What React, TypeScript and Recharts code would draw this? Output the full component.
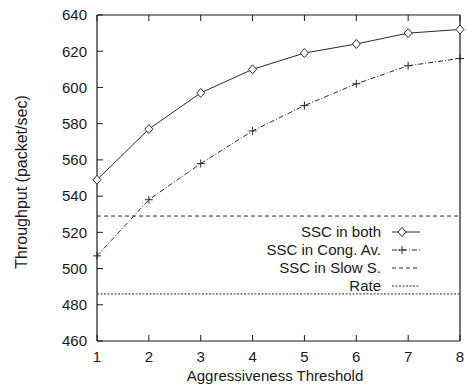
import React from 'react';
import { LineChart, Line, XAxis, YAxis, Legend } from 'recharts';

const thresholds = [1, 2, 3, 4, 5, 6, 7, 8];
const sscBoth = [549, 577, 597, 610, 619, 624, 630, 632];
const sscCong = [507, 538, 558, 576, 590, 602, 612, 616];
const sscSlow = [529, 529, 529, 529, 529, 529, 529, 529];
const rate = [486, 486, 486, 486, 486, 486, 486, 486];
const yTicks = [460, 480, 500, 520, 540, 560, 580, 600, 620, 640];
const seriesNames = ['SSC in both', 'SSC in Cong. Av.', 'SSC in Slow S.', 'Rate'];
const xTitle = 'Aggressiveness Threshold';
const yTitle = 'Throughput (packet/sec)';

const data = thresholds.map((t, i) => ({
  x: t,
  both: sscBoth[i],
  cong: sscCong[i],
  slow: sscSlow[i],
  rate: rate[i],
}));

const FONT = '"Liberation Sans", Arial, Helvetica, sans-serif';
const INK = '#1a1a1a';
const LINE = '#2a2a2a';
const dashes = ['', '5 2 1 2', '4 3', '2 1.5'];

const Diamond = (props: any) => {
  const { cx, cy } = props;
  if (cx == null || cy == null) return <g />;
  return (
    <path
      d={`M${cx} ${cy - 4.5}L${cx + 4} ${cy}L${cx} ${cy + 4.5}L${cx - 4} ${cy}Z`}
      fill="#fff"
      stroke={LINE}
      strokeWidth={1}
    />
  );
};

const Plus = (props: any) => {
  const { cx, cy } = props;
  if (cx == null || cy == null) return <g />;
  return (
    <path d={`M${cx - 4} ${cy}H${cx + 4}M${cx} ${cy - 4}V${cy + 4}`} stroke={LINE} strokeWidth={1} fill="none" />
  );
};

const Empty = () => <g />;

const renderLegend = () => (
  <div style={{ fontFamily: FONT, fontSize: 15, color: INK }}>
    {seriesNames.map((name, i) => (
      <div key={name} style={{ display: 'flex', alignItems: 'center', height: 18 }}>
        <span style={{ width: 151, textAlign: 'right', whiteSpace: 'nowrap', lineHeight: '18px' }}>{name}</span>
        <svg width={40} height={18} style={{ display: 'block' }}>
          <line x1={11} y1={9} x2={39} y2={9} stroke={LINE} strokeWidth={1} strokeDasharray={dashes[i] || undefined} />
          {i === 0 && <Diamond cx={21} cy={9} />}
          {i === 1 && <Plus cx={21} cy={9} />}
        </svg>
      </div>
    ))}
  </div>
);

const tickStyle = { fontSize: 15, fill: INK, fontFamily: FONT };

export default function App() {
  return (
    <div style={{ position: 'absolute', left: 0, top: 0, background: '#fff' }}>
      <LineChart
        width={468}
        height={384}
        data={data}
        margin={{ top: 14, right: 7, bottom: 0, left: 0 }}
        style={{ fontFamily: FONT }}
      >
        <XAxis
          dataKey="x"
          type="number"
          domain={[1, 8]}
          ticks={thresholds}
          interval={0}
          height={43}
          tickSize={-6}
          tickMargin={16}
          axisLine={{ stroke: INK, strokeWidth: 1.2 }}
          tickLine={{ stroke: INK }}
          tick={tickStyle}
          label={(p: any) => (
            <text x={275} y={380.5} textAnchor="middle" fontSize={15} fill={INK} fontFamily={FONT}>
              {xTitle}
            </text>
          )}
        />
        <XAxis
          xAxisId="top"
          orientation="top"
          dataKey="x"
          type="number"
          domain={[1, 8]}
          ticks={thresholds}
          interval={0}
          height={1}
          tickSize={-6}
          axisLine={{ stroke: INK, strokeWidth: 1.2 }}
          tickLine={{ stroke: INK }}
          tick={Empty}
        />
        <YAxis
          type="number"
          domain={[460, 640]}
          ticks={yTicks}
          interval={0}
          width={97}
          tickSize={-6}
          tickMargin={16}
          axisLine={{ stroke: INK, strokeWidth: 1.2 }}
          tickLine={{ stroke: INK }}
          tick={tickStyle}
          label={(p: any) => (
            <text
              x={21}
              y={182}
              transform="rotate(-90 21 182)"
              textAnchor="middle"
              dominantBaseline="central"
              fontSize={16}
              fill={INK}
              fontFamily={FONT}
            >
              {yTitle}
            </text>
          )}
        />
        <YAxis
          yAxisId="right"
          orientation="right"
          type="number"
          domain={[460, 640]}
          ticks={yTicks}
          interval={0}
          width={1}
          tickSize={-5}
          axisLine={{ stroke: INK, strokeWidth: 1.2 }}
          tickLine={{ stroke: INK }}
          tick={Empty}
        />
        <Legend
          layout="vertical"
          align="center"
          verticalAlign="middle"
          wrapperStyle={{ position: 'absolute', left: 230, top: 223, width: 200, height: 72, margin: 0 }}
          content={renderLegend}
        />
        <Line
          dataKey="slow"
          name={seriesNames[2]}
          stroke={LINE}
          strokeWidth={1}
          strokeDasharray={dashes[2]}
          dot={false}
          activeDot={false}
          isAnimationActive={false}
        />
        <Line
          dataKey="rate"
          name={seriesNames[3]}
          stroke={LINE}
          strokeWidth={1}
          strokeDasharray={dashes[3]}
          dot={false}
          activeDot={false}
          isAnimationActive={false}
        />
        <Line
          dataKey="cong"
          name={seriesNames[1]}
          stroke={LINE}
          strokeWidth={1}
          strokeDasharray={dashes[1]}
          dot={(p: any) => <Plus key={`c${p.index}`} {...p} />}
          activeDot={false}
          isAnimationActive={false}
        />
        <Line
          dataKey="both"
          name={seriesNames[0]}
          stroke={LINE}
          strokeWidth={1}
          dot={(p: any) => <Diamond key={`b${p.index}`} {...p} />}
          activeDot={false}
          isAnimationActive={false}
        />
      </LineChart>
    </div>
  );
}
